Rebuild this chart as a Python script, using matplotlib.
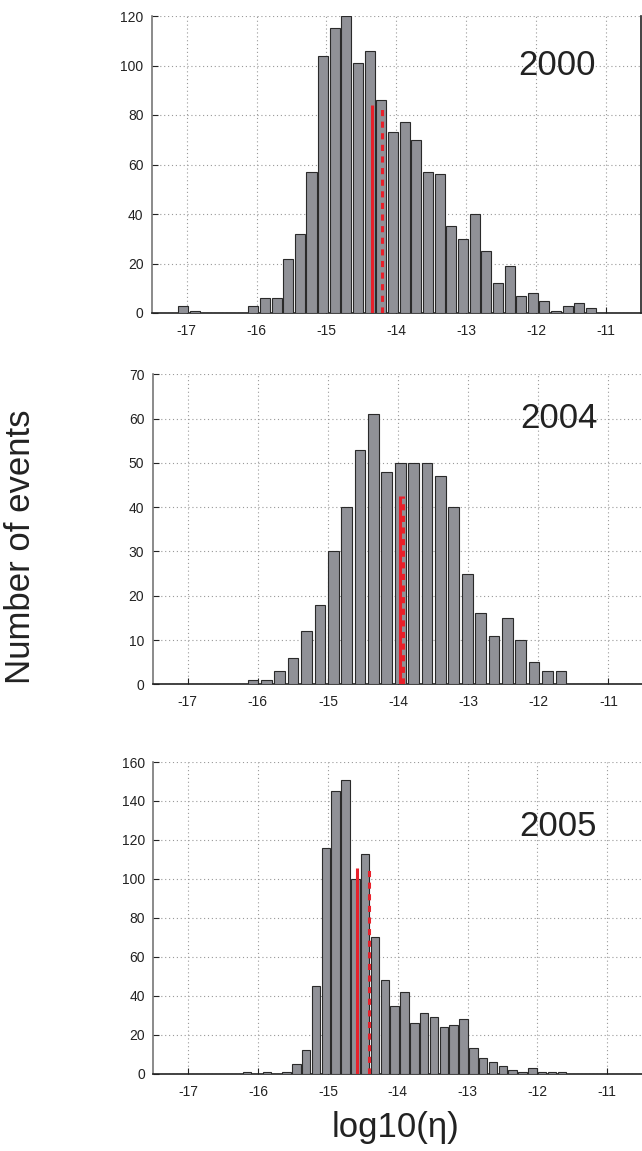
import numpy as np
import matplotlib
matplotlib.use("Agg")
import matplotlib.pyplot as plt

plt.rcParams['font.family'] = ['Liberation Sans', 'DejaVu Sans']
plt.rcParams['axes.unicode_minus'] = False

# ---- data ----
years = ["2000", "2004", "2005"]

bin_start_2000 = -17.048
bin_width_2000 = 0.1667
counts_2000 = [3, 1, 0, 0, 0, 0, 3, 6, 6, 22, 32, 57, 104, 115, 120, 101, 106, 86,
               73, 77, 70, 57, 56, 35, 30, 40, 25, 12, 19, 7, 8, 5, 1, 3, 4, 2]

bin_start_2004 = -16.07
bin_width_2004 = 0.191
counts_2004 = [1, 1, 3, 6, 12, 18, 30, 40, 53, 61, 48, 50, 50, 50, 47, 40, 25, 16,
               11, 15, 10, 5, 3, 3]

bin_start_2005 = -16.157
bin_width_2005 = 0.1408
counts_2005 = [1, 0, 1, 0, 1, 5, 12, 45, 116, 145, 151, 100, 113, 70, 48, 35, 42, 26,
               31, 29, 24, 25, 28, 13, 8, 6, 4, 2, 1, 3, 1, 1, 1]

# red reference lines: (solid x, dashed x, height)
solid_x = [-14.35, -13.975, -14.59]
dashed_x = [-14.205, -13.93, -14.414]
line_h = [84, 42.5, 105.6]

ymax = [120, 70, 160]
ystep = [20, 10, 20]
xticks = [-17, -16, -15, -14, -13, -12, -11]
year_y = [100, 60, 127]

# ---- layout ----
W, H = 642, 1151
fig = plt.figure(figsize=(W / 100, H / 100), dpi=100)
boxes = [(151.8, 640.9, 16, 313), (152.7, 643.4, 374.3, 684.3), (153.4, 642.2, 762, 1073.7)]

starts = [bin_start_2000, bin_start_2004, bin_start_2005]
widths = [bin_width_2000, bin_width_2004, bin_width_2005]
counts = [counts_2000, counts_2004, counts_2005]
fracs = [0.86, 0.80, 0.86]

for i in range(3):
    l, r, t, b = boxes[i]
    ax = fig.add_axes([l / W, 1 - b / H, (r - l) / W, (b - t) / H])
    c = np.array(counts[i])
    centers = starts[i] + widths[i] * np.arange(len(c))
    ax.bar(centers, c, width=widths[i] * fracs[i], color='#909197',
           edgecolor='#2a2a2a', linewidth=0.8, zorder=3)
    ax.plot([solid_x[i]] * 2, [0, line_h[i]], color='#e8202a', lw=2.2,
            solid_capstyle='butt', zorder=4)
    ax.plot([dashed_x[i]] * 2, [0, line_h[i]], color='#e8202a', lw=2.2,
            dashes=(2.0, 1.8), zorder=4)
    ax.set_xlim(-17.5, -10.5)
    ax.set_ylim(0, ymax[i])
    ax.set_xticks(xticks)
    ax.set_yticks(np.arange(0, ymax[i] + 1, ystep[i]))
    ax.grid(True, color='#999999', linestyle=(0, (1, 2.5)), linewidth=0.8, zorder=0)
    ax.tick_params(direction='in', length=4, labelsize=10, colors='#222222',
                   pad=6)
    ax.tick_params(axis='x', pad=8)
    ax.spines['top'].set_visible(False)
    if i > 0:
        ax.spines['right'].set_visible(False)
    else:
        ax.spines['right'].set_color('#222222')
        ax.spines['right'].set_linewidth(1.2)
    ax.spines['left'].set_color('#777777')
    ax.spines['left'].set_linewidth(1.2)
    ax.spines['bottom'].set_color('#222222')
    ax.spines['bottom'].set_linewidth(1.2)
    ax.text(-11.7, year_y[i], years[i], fontsize=25, ha='center', va='center',
            color='#222222', zorder=5)

fig.text(21 / W, 1 - 547 / H, "Number of events", rotation=90, fontsize=25,
         ha='center', va='center', color='#222222')
fig.text(395 / W, 1 - 1128 / H, "log10(η)", fontsize=25, ha='center',
         va='center', color='#222222')

fig.savefig("out.png", dpi=100)
